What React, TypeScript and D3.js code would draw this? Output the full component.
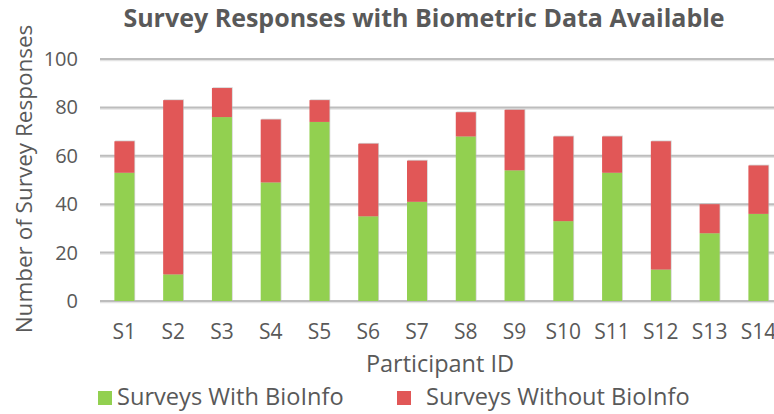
import React from "react";
import * as d3 from "d3";

const categories = ["S1","S2","S3","S4","S5","S6","S7","S8","S9","S10","S11","S12","S13","S14"];
const withBio = [53, 11, 76, 49, 74, 35, 41, 68, 54, 33, 53, 13, 28, 36];
const withoutBio = [13, 72, 12, 26, 9, 30, 17, 10, 25, 35, 15, 53, 12, 20];
const yTicks = [0, 20, 40, 60, 80, 100];
const seriesNames = ["Surveys With BioInfo", "Surveys Without BioInfo"];

const W = 774, H = 414;
const GREEN = "#92D050";
const RED = "#E15757";
const TEXT = "#595959";
const FONT = "'Open Sans', 'Noto Sans', sans-serif";

export default function App() {
  const x = d3.scaleBand<string>().domain(categories).range([100, 100 + 14 * 48.77]).paddingInner(0.59).paddingOuter(0.295);
  const y = d3.scaleLinear().domain([0, 100]).range([301, 59]);
  const stackData = categories.map((c, i) => ({ cat: c, with: withBio[i], without: withoutBio[i] }));
  const series = d3.stack<any>().keys(["with", "without"])(stackData);
  const colors = [GREEN, RED];
  const bw = x.bandwidth();

  return (
    <svg width={W} height={H} style={{ position: "absolute", left: 0, top: 0, background: "#fff" }} fontFamily={FONT}>
      <text x={424} y={27} textAnchor="middle" fontSize={25} fontWeight="bold" fill={TEXT}>
        Survey Responses with Biometric Data Available
      </text>
      {yTicks.map((t) => (
        <g key={t}>
          <line x1={100} x2={W} y1={y(t) + 1.5} y2={y(t) + 1.5} stroke="#E3E3E3" strokeWidth={1.5} />
          <line x1={100} x2={W} y1={y(t)} y2={y(t)} stroke="#BDBDBD" strokeWidth={2} />
          <text x={78} y={y(t)} dy="0.35em" textAnchor="end" fontSize={20} fill={TEXT}>{t}</text>
        </g>
      ))}
      {series.map((s, si) =>
        s.map((d, i) => {
          const x0 = x(categories[i])!;
          const top = y(d[1]);
          const h = y(d[0]) - y(d[1]);
          return (
            <g key={`${si}-${i}`}>
              <rect x={x0 + 0.8} y={top - 0.8} width={bw} height={h} fill="#B5B5B5" opacity={0.6} />
              <rect x={x0} y={top} width={bw} height={h} fill={colors[si]} />
            </g>
          );
        })
      )}
      {categories.map((c) => (
        <text key={c} x={x(c)! + bw / 2} y={339} textAnchor="middle" fontSize={21} fill={TEXT}>{c}</text>
      ))}
      <text x={440} y={372} textAnchor="middle" fontSize={23.5} fill={TEXT}>Participant ID</text>
      <text transform={`translate(32,179) rotate(-90)`} textAnchor="middle" fontSize={22.5} fill={TEXT}>
        Number of Survey Responses
      </text>
      <rect x={98} y={391} width={14} height={14} fill={GREEN} />
      <text x={117} y={405} fontSize={23.6} fill={TEXT}>{seriesNames[0]}</text>
      <rect x={397} y={391} width={14} height={14} fill={RED} />
      <text x={426} y={405} fontSize={23.6} fill={TEXT}>{seriesNames[1]}</text>
    </svg>
  );
}
